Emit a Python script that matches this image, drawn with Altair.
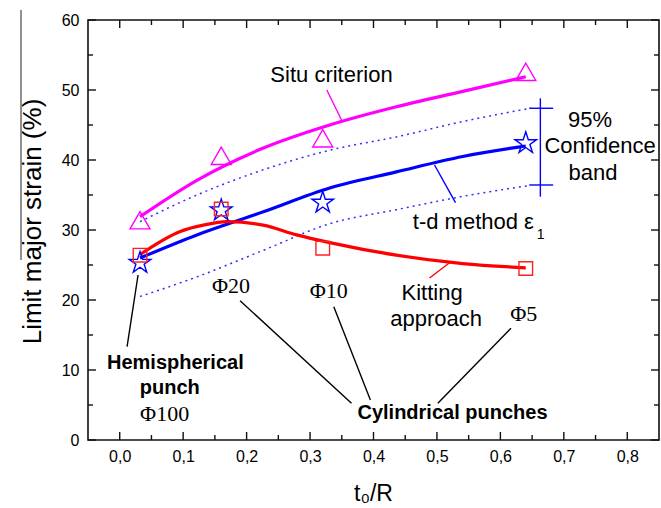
import altair as alt
import pandas as pd

W, H = 571, 420
SANS = "Liberation Sans, Arial, Helvetica, sans-serif"
SERIF = "Liberation Serif, Times New Roman, serif"

MAGENTA = "#ff00ff"
BLUE = "#0000ff"
RED = "#ff0000"
DOT = "#3030ff"
STAR = ("M0,-1L0.2245,-0.309L0.951,-0.309L0.3633,0.118L0.5878,0.809L0,0.382"
        "L-0.5878,0.809L-0.3633,0.118L-0.951,-0.309L-0.2245,-0.309Z")

# ---------------- data ----------------
x_major = [0.0, 0.1, 0.2, 0.3, 0.4, 0.5, 0.6, 0.7, 0.8]
x_minor = [0.05, 0.15, 0.25, 0.35, 0.45, 0.55, 0.65, 0.75]
y_major = [0, 10, 20, 30, 40, 50, 60]
y_minor = [5, 15, 25, 35, 45, 55]

# measured points (t0/R)
pt_x = [0.032, 0.16, 0.32, 0.64]
situ_pts = [31.4, 40.6, 43.1, 52.6]
td_pts = [25.3, 32.8, 33.9, 42.4]
kit_pts = [26.4, 33.0, 27.4, 24.5]

# fitted curves
situ_cx = [0.032, 0.1216, 0.2263, 0.331, 0.436, 0.5407, 0.64]
situ_cy = [31.9, 37.1, 41.7, 45.0, 47.6, 49.8, 51.9]

td_cx = [0.032, 0.1216, 0.2263, 0.331, 0.436, 0.5407, 0.64]
td_cy = [26.0, 29.3, 32.6, 36.0, 38.3, 40.5, 42.0]

up_cx = [0.032, 0.1216, 0.2263, 0.331, 0.436, 0.5407, 0.648]
up_cy = [31.2, 35.0, 38.6, 41.4, 43.3, 45.5, 47.4]

lo_cx = [0.032, 0.1216, 0.2263, 0.331, 0.436, 0.5407, 0.648]
lo_cy = [20.5, 23.3, 27.1, 30.9, 32.9, 34.8, 36.4]

kit_cx = [0.032, 0.0954, 0.132, 0.169, 0.226, 0.279, 0.331, 0.436, 0.5407, 0.64]
kit_cy = [26.5, 29.8, 30.7, 31.2, 30.7, 29.3, 28.2, 26.4, 25.2, 24.6]

# leader lines / confidence bar
lead_x1 = [0.0289, 0.1897, 0.3374, 0.6167, 0.3264, 0.4962, 0.5198, 0.663, 0.6455, 0.6455]
lead_y1 = [23.57, 19.9, 19.04, 15.96, 50.0, 39.29, 25.33, 48.81, 47.39, 36.43]
lead_x2 = [0.0116, 0.3653, 0.3951, 0.5014, 0.3496, 0.5292, 0.4883, 0.663, 0.6832, 0.6832]
lead_y2 = [13.33, 5.24, 5.71, 5.24, 45.71, 33.9, 23.14, 34.76, 47.39, 36.43]
lead_c = ["black", "black", "black", "black", MAGENTA, BLUE, RED, BLUE, BLUE, BLUE]

# annotations
sans_text = ["Situ criterion", "95%", "Confidence", "band", "Kitting", "approach"]
sans_x = [0.3338, 0.7414, 0.7571, 0.7461, 0.4923, 0.4986]
sans_y = [51.19, 44.76, 41.04, 37.14, 20.0, 16.29]

td_text = ["t-d method \u03b5"]
td_x = [0.462]
td_y = [30.1]
sub_text = ["1"]
sub_x = [0.6575]
sub_y = [28.7]

bold_text = ["Hemispherical", "punch", "Cylindrical punches"]
bold_x = [0.0877, 0.0789, 0.5245]
bold_y = [10.1, 6.57, 2.95]

serif_text = ["\u03a620", "\u03a610", "\u03a65", "\u03a6100"]
serif_x = [0.1753, 0.3296, 0.6369, 0.0708]
serif_y = [21.07, 20.24, 17.04, 2.76]

# ---------------- scales / axes ----------------
xs = alt.Scale(domain=[-0.05, 0.85], nice=False, zero=False)
ys = alt.Scale(domain=[0, 60], nice=False, zero=False)

X_AXIS = alt.Axis(orient="bottom", values=x_major,
                  labelExpr="replace(format(datum.value, '.1f'), '.', ',')",
                  ticks=False, domain=False, grid=False, labelFlush=False,
                  labelFont=SANS, labelFontSize=16, labelColor="black", labelPadding=8,
                  title="t\u2080/R", titleFont=SANS, titleFontSize=23, titleFontWeight="normal",
                  titleColor="black", titleX=285, titleY=60, titleAlign="center",
                  titleBaseline="alphabetic")
Y_AXIS = alt.Axis(orient="left", values=y_major, ticks=False, domain=False, grid=False,
                  labelFlush=False, labelFont=SANS, labelFontSize=16, labelColor="black",
                  labelPadding=9,
                  title="Limit major strain (%)", titleFont=SANS, titleFontSize=26,
                  titleFontWeight="normal", titleColor="black", titleAngle=270,
                  titleX=-56, titleY=201, titleAlign="center", titleBaseline="middle")


def X(field):
    return alt.X(field, scale=xs, axis=X_AXIS)


def Y(field):
    return alt.Y(field, scale=ys, axis=Y_AXIS)


def curve(xv, yv, color, width, dash=None):
    df = pd.DataFrame({"x": xv, "y": yv})
    kw = dict(color=color, strokeWidth=width, interpolate="monotone")
    if dash:
        kw["strokeDash"] = dash
    return alt.Chart(df).mark_line(**kw).encode(x=X("x:Q"), y=Y("y:Q"))


mag = curve(situ_cx, situ_cy, MAGENTA, 3.2)
upper = curve(up_cx, up_cy, DOT, 1.5, dash=[2, 4])
lower = curve(lo_cx, lo_cy, DOT, 1.5, dash=[2, 4])
blue = curve(td_cx, td_cy, BLUE, 3.2)
red = curve(kit_cx, kit_cy, RED, 3.2)


# inward ticks on the four sides of the frame
def xticks(vals, size):
    df = pd.DataFrame({"v": vals})
    base = alt.Chart(df).mark_rule(color="#111111", strokeWidth=1.4)
    bot = base.encode(x=X("v:Q"), y=alt.value(H), y2=alt.value(H - size))
    top = base.encode(x=X("v:Q"), y=alt.value(0), y2=alt.value(size))
    return [bot, top]


def yticks(vals, size):
    df = pd.DataFrame({"v": vals})
    base = alt.Chart(df).mark_rule(color="#111111", strokeWidth=1.4)
    lft = base.encode(y=Y("v:Q"), x=alt.value(0), x2=alt.value(size))
    rgt = base.encode(y=Y("v:Q"), x=alt.value(W), x2=alt.value(W - size))
    return [lft, rgt]


tick_layers = xticks(x_major, 8) + xticks(x_minor, 5) + yticks(y_major, 8) + yticks(y_minor, 5)

# thin stray border line visible at the far left of the original figure
border = alt.Chart(pd.DataFrame({"k": [0]})).mark_rule(color="#222222", strokeWidth=1).encode(
    x=alt.value(-67), y=alt.value(-10), y2=alt.value(240)
)

pts = pd.DataFrame({"x": pt_x, "situ": situ_pts, "td": td_pts, "kit": kit_pts})


def marker(col, shape, size, color):
    return alt.Chart(pts).mark_point(shape=shape, size=size, filled=False,
                                     color=color, strokeWidth=1.4, opacity=1).encode(
        x=X("x:Q"), y=Y(col + ":Q"),
    )


stars = marker("td", STAR, 520, BLUE)
squares = marker("kit", "square", 185, "#ff2020")
tris = marker("situ", "triangle-up", 400, MAGENTA)

leads = pd.DataFrame({"x": lead_x1, "y": lead_y1, "x2": lead_x2, "y2": lead_y2, "c": lead_c})
leaders = alt.Chart(leads).mark_rule(strokeWidth=1.4).encode(
    x=X("x:Q"), y=Y("y:Q"), x2="x2:Q", y2="y2:Q", color=alt.Color("c:N", scale=None),
)


def texts(tv, xv, yv, font, size, weight="normal", align="center"):
    df = pd.DataFrame({"x": xv, "y": yv, "t": tv})
    return alt.Chart(df).mark_text(font=font, fontSize=size, fontWeight=weight,
                                   align=align, baseline="alphabetic", color="black").encode(
        x=X("x:Q"), y=Y("y:Q"), text="t:N",
    )


t_sans = texts(sans_text, sans_x, sans_y, SANS, 22)
t_td = texts(td_text, td_x, td_y, SANS, 22, align="left")
t_sub = texts(sub_text, sub_x, sub_y, SANS, 14, align="left")
t_bold = texts(bold_text, bold_x, bold_y, SANS, 20, weight="bold")
t_serif = texts(serif_text, serif_x, serif_y, SERIF, 22)

chart = alt.layer(
    mag, upper, lower, blue, red, *tick_layers, border,
    stars, squares, tris, leaders,
    t_sans, t_td, t_sub, t_bold, t_serif,
).properties(
    width=W, height=H,
    padding={"left": 88, "top": 20, "right": 2, "bottom": 68},
    autosize=alt.AutoSizeParams(type="none"),
    background="white",
).configure_view(stroke="#111111", strokeWidth=1.6)

chart.save("out.html", embed_options={"renderer": "svg", "actions": False})
